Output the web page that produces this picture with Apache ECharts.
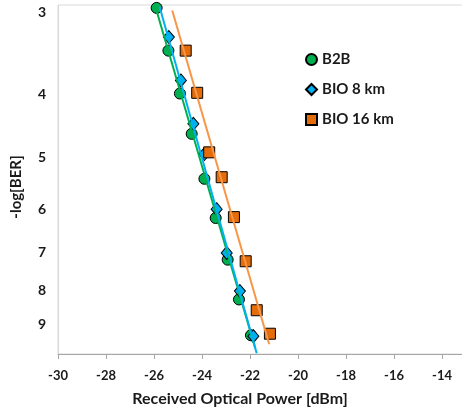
<!DOCTYPE html>
<html><head><meta charset="utf-8">
<script src="https://cdn.jsdelivr.net/npm/echarts@6/dist/echarts.min.js"></script>
<style>html,body{margin:0;padding:0;background:#fff}#c{width:462px;height:412px}</style>
</head><body><div id="c"></div>
<script>
// Data (x: received optical power in dBm, y: -log[BER])
const seriesNames = ['B2B', 'BIO 8 km', 'BIO 16 km'];
const b2bX  = [-25.89, -25.40, -24.92, -24.43, -23.90, -23.43, -22.93, -22.46, -21.96];
const b2bY  = [2.95, 3.43, 3.99, 4.60, 5.39, 6.19, 7.17, 8.25, 9.36];
const bio8X = [-25.38, -24.88, -24.36, -23.90, -23.39, -22.97, -22.42, -21.86];
const bio8Y = [3.27, 3.81, 4.44, 4.94, 6.00, 7.00, 8.01, 9.39];
const bio16X = [-24.68, -24.20, -23.70, -23.18, -22.67, -22.18, -21.72, -21.17];
const bio16Y = [3.43, 3.98, 4.91, 5.36, 6.17, 7.21, 8.57, 9.31];
// Linear trend lines (end points)
const b2bFitX = [-25.92, -21.78];
const b2bFitY = [2.956, 9.80];
const bio8FitX = [-25.77, -21.72];
const bio8FitY = [2.936, 9.97];
const bio16FitX = [-25.24, -21.20];
const bio16FitY = [2.977, 9.66];
// Tick labels
const yTickValues = [3, 4, 5, 6, 7, 8, 9];
const xTickValues = [-30, -28, -26, -24, -22, -20, -18, -16, -14];

const zip = (xs, ys) => xs.map((x, i) => [x, ys[i]]);
const FONT = 'Lato';
const TXT = '#1a1a1a';

const chart = echarts.init(document.getElementById('c'), null, {renderer: 'canvas'});
chart.setOption({
  animation: false,
  backgroundColor: '#fff',
  grid: {left: 58, top: 5, width: 408, height: 349, show: true, borderColor: '#d9d9d9', borderWidth: 1, outerBoundsMode: 'none'},
  legend: {
    data: seriesNames, orient: 'vertical', left: 300, top: 47,
    itemWidth: 11, itemHeight: 11, itemGap: 15,
    textStyle: {fontFamily: FONT, fontWeight: 'bold', fontSize: 15, color: TXT}
  },
  xAxis: {
    type: 'value', min: -30, max: -13, interval: 2,
    name: 'Received Optical Power [dBm]', nameLocation: 'middle', nameGap: 37,
    nameTextStyle: {fontFamily: FONT, fontWeight: 'bold', fontSize: 16, color: TXT, padding: [0, 44, 0, 0]},
    axisLine: {lineStyle: {color: '#a6a6a6', width: 1}},
    axisTick: {show: true, length: 5, lineStyle: {color: '#a6a6a6'}},
    axisLabel: {
      margin: 15, fontFamily: FONT, fontWeight: 'bold', fontSize: 13, color: TXT,
      formatter: v => xTickValues.indexOf(v) >= 0 ? String(v) : ''
    },
    splitLine: {show: false}
  },
  yAxis: {
    type: 'log', logBase: 10, min: 2.92, max: 10, inverse: true,
    name: '-log[BER]', nameLocation: 'middle', nameGap: 34,
    nameTextStyle: {fontFamily: FONT, fontWeight: 'bold', fontSize: 15, color: TXT, padding: [0, 15, 0, 0]},
    axisLine: {show: true, lineStyle: {color: '#d9d9d9', width: 1}},
    axisTick: {show: false},
    axisLabel: {customValues: yTickValues, margin: 12, fontFamily: FONT, fontWeight: 'bold', fontSize: 14, color: TXT,
      formatter: v => String(Math.round(v))},
    splitLine: {show: false}
  },
  series: [
    {name: 'B2B', type: 'scatter', data: zip(b2bX, b2bY), symbol: 'circle', symbolSize: 11, z: 2,
      itemStyle: {color: '#00B050', borderColor: '#000', borderWidth: 1, opacity: 1}},
    {name: 'BIO 8 km', type: 'scatter', data: zip(bio8X, bio8Y), symbol: 'diamond', symbolSize: [11, 13], z: 2,
      itemStyle: {color: '#00B0F0', borderColor: '#000', borderWidth: 1, opacity: 1}},
    {name: 'BIO 16 km', type: 'scatter', data: zip(bio16X, bio16Y), symbol: 'rect', symbolSize: 11, z: 2,
      itemStyle: {color: '#E46C0A', borderColor: '#000', borderWidth: 1, opacity: 1}},
    {name: 'fitB2B', type: 'line', data: zip(b2bFitX, b2bFitY), symbol: 'none', z: 3, silent: true,
      lineStyle: {color: '#00B050', width: 2}},
    {name: 'fit8', type: 'line', data: zip(bio8FitX, bio8FitY), symbol: 'none', z: 3, silent: true,
      lineStyle: {color: '#00B0F0', width: 2}},
    {name: 'fit16', type: 'line', data: zip(bio16FitX, bio16FitY), symbol: 'none', z: 3, silent: true,
      lineStyle: {color: '#F79646', width: 2}}
  ]
});
</script></body></html>
